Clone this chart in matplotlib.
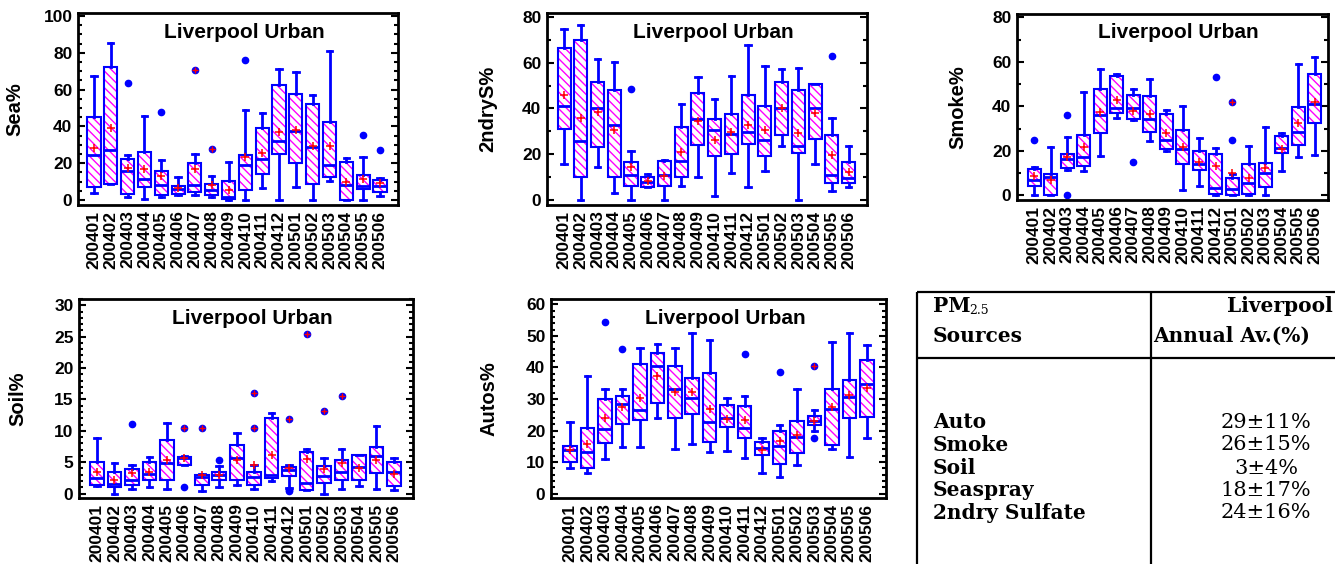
import matplotlib
matplotlib.use("Agg")
import matplotlib.pyplot as plt
from matplotlib.colors import to_rgba
from matplotlib.ticker import MultipleLocator

# ---------------- data ----------------
months = ["200401", "200402", "200403", "200404", "200405", "200406", "200407", "200408", "200409",
          "200410", "200411", "200412", "200501", "200502", "200503", "200504", "200505", "200506"]

sea_lo = [3.6, 8.5, 1.8, 0.4, 1.4, 2.7, 2.5, 1.4, 0.0, 0.0, 6.5, 0.0, 7.0, 0.0, 10.1, 0.0, 0.0, 2.2]
sea_q1 = [7.2, 8.9, 3.3, 6.9, 2.5, 3.3, 4.3, 2.7, 0.5, 5.3, 14.0, 25.0, 19.9, 8.5, 12.5, 0.0, 6.0, 4.3]
sea_med = [24.6, 27.4, 16.0, 11.2, 8.3, 6.0, 8.0, 5.4, 1.6, 18.8, 22.5, 32.0, 37.7, 28.8, 19.2, 8.0, 7.8, 7.8]
sea_q3 = [45.3, 72.5, 22.5, 25.9, 15.6, 7.4, 20.0, 8.9, 10.1, 24.3, 39.0, 62.5, 57.6, 52.4, 42.2, 20.8, 13.8, 11.0]
sea_hi = [67.4, 85.5, 24.5, 45.7, 21.9, 12.5, 25.2, 13.2, 20.5, 48.7, 47.3, 71.0, 69.7, 57.2, 81.0, 22.8, 23.4, 12.1]
sea_mean = [28.0, 39.0, 17.2, 16.7, 13.0, 6.3, 17.0, 8.0, 5.4, 23.6, 25.7, 36.8, 38.2, 29.5, 29.2, 10.0, 11.4, 9.2]
sea_out = [[], [], [63.8], [], [48.0], [], [], [], [], [76.0], [], [], [], [], [], [], [35.3], [27.0]]
sea_far = [[], [], [], [], [], [], [70.5], [27.5], [], [], [], [], [], [], [], [], [], []]

sul_lo = [15.5, 0.0, 14.5, 3.2, 0.0, 5.8, 0.0, 6.1, 10.1, 1.9, 12.0, 5.7, 12.8, 23.4, 0.0, 15.6, 3.9, 5.8]
sul_q1 = [31.1, 9.9, 23.1, 9.9, 6.1, 5.8, 6.0, 10.1, 23.9, 19.3, 19.9, 24.5, 19.0, 28.5, 20.7, 26.6, 7.2, 7.6]
sul_med = [40.9, 25.8, 40.4, 32.6, 10.7, 7.9, 10.7, 17.2, 35.2, 30.7, 28.9, 29.9, 26.4, 40.4, 23.4, 40.0, 10.7, 9.6]
sul_q3 = [66.4, 69.8, 51.4, 48.0, 16.8, 10.2, 17.2, 31.7, 46.6, 35.5, 37.5, 46.0, 41.0, 51.7, 48.0, 50.5, 28.2, 16.4]
sul_hi = [74.6, 76.6, 61.5, 60.1, 21.5, 11.2, 17.5, 41.9, 53.6, 44.1, 54.3, 67.6, 58.4, 57.1, 57.5, 50.5, 35.8, 23.8]
sul_mean = [45.8, 36.0, 38.4, 30.7, 14.6, 8.3, 10.5, 20.9, 34.3, 26.4, 29.6, 32.6, 30.7, 40.4, 29.2, 38.0, 19.6, 12.3]
sul_out = [[], [], [], [], [48.6], [], [], [], [], [], [], [], [], [], [], [], [63.1], []]
sul_far = [[] for _ in range(18)]

smk_lo = [0.0, 0.0, 11.4, 10.8, 17.7, 34.6, 33.9, 24.4, 20.1, 2.5, 4.3, 0.0, 0.0, 0.0, 0.0, 10.8, 17.4, 18.1]
smk_q1 = [4.0, 0.0, 12.3, 13.0, 28.2, 36.9, 34.5, 28.5, 21.0, 14.1, 11.2, 0.4, 0.0, 0.4, 3.6, 18.9, 22.5, 32.4]
smk_med = [6.9, 8.4, 16.5, 17.2, 36.3, 39.4, 39.4, 34.5, 25.0, 20.7, 14.1, 3.3, 2.8, 5.4, 10.2, 21.1, 28.6, 41.0]
smk_q3 = [11.7, 9.4, 18.7, 27.3, 47.6, 53.6, 45.1, 44.6, 36.7, 29.4, 19.8, 18.4, 7.9, 13.9, 14.7, 26.7, 39.7, 54.7]
smk_hi = [12.6, 21.9, 26.4, 46.4, 56.9, 54.5, 47.9, 52.4, 38.4, 40.1, 25.8, 21.4, 9.4, 22.3, 30.9, 28.2, 58.9, 62.0]
smk_mean = [8.8, 7.0, 17.1, 21.7, 37.5, 43.0, 37.8, 36.4, 28.2, 21.9, 14.8, 13.3, 9.9, 7.6, 12.4, 20.8, 32.4, 42.1]
smk_out = [[24.9], [], [36.0, 0.0], [], [], [], [14.8], [], [], [], [], [53.0], [24.7], [], [], [], [], []]
smk_far = [[], [], [], [], [], [], [], [], [], [], [], [], [41.9], [], [], [], [], []]

soil_lo = [1.2, 0.0, 0.8, 1.1, 0.7, 4.6, 0.4, 1.0, 1.3, 0.8, 2.0, 0.9, 0.5, 0.0, 0.8, 1.2, 0.7, 0.5]
soil_q1 = [1.3, 1.0, 1.3, 2.2, 2.2, 4.6, 1.4, 2.2, 2.2, 1.4, 2.5, 2.8, 0.6, 1.7, 2.2, 2.2, 3.3, 1.2]
soil_med = [2.5, 1.5, 2.1, 3.2, 4.9, 5.6, 2.7, 3.0, 5.7, 2.6, 3.0, 3.8, 1.7, 2.8, 3.5, 4.2, 6.0, 3.4]
soil_q3 = [5.1, 3.4, 3.9, 5.0, 8.5, 5.9, 3.0, 3.4, 7.8, 3.4, 12.1, 4.2, 6.6, 4.4, 5.3, 6.1, 7.4, 5.0]
soil_hi = [8.8, 4.8, 4.5, 5.8, 11.2, 6.0, 3.2, 4.4, 9.7, 4.6, 12.8, 4.6, 7.1, 5.6, 7.1, 6.2, 10.7, 5.6]
soil_mean = [3.4, 2.1, 3.3, 3.5, 5.4, 5.6, 3.0, 2.9, 5.3, 4.6, 6.2, 4.0, 5.5, 3.9, 4.9, 4.0, 5.4, 3.1]
soil_out = [[], [], [11.1], [], [], [1.1], [], [5.3], [], [], [], [0.6, 0.4], [], [], [], [], [], []]
soil_far = [[], [], [], [], [], [10.4], [10.4], [], [], [16.1, 10.4], [], [11.9], [25.4], [13.2], [15.6], [], [], []]

aut_lo = [8.0, 6.6, 10.9, 14.7, 14.9, 24.1, 14.2, 15.7, 13.3, 13.4, 11.2, 6.5, 5.2, 9.0, 19.8, 14.1, 11.5, 17.5]
aut_q1 = [10.1, 8.0, 16.1, 22.1, 23.3, 28.8, 24.1, 25.2, 16.2, 21.2, 17.6, 12.2, 9.4, 13.0, 21.9, 15.4, 24.0, 24.3]
aut_med = [13.9, 13.1, 20.4, 28.5, 26.6, 40.3, 33.3, 30.2, 22.6, 23.9, 20.7, 14.4, 15.2, 18.1, 22.9, 26.9, 30.6, 34.7]
aut_q3 = [15.2, 20.7, 29.9, 30.8, 41.1, 44.7, 40.4, 36.7, 38.1, 28.0, 27.8, 16.3, 20.0, 23.0, 24.5, 33.2, 35.9, 42.4]
aut_hi = [22.7, 37.4, 33.2, 33.2, 46.1, 47.5, 46.3, 51.0, 48.6, 30.2, 30.8, 17.6, 21.8, 33.3, 26.4, 48.2, 51.0, 47.1]
aut_mean = [13.7, 15.7, 24.0, 27.5, 30.3, 37.4, 32.2, 32.1, 26.9, 23.6, 23.4, 13.7, 16.8, 18.7, 23.1, 27.4, 31.2, 33.4]
aut_out = [[], [], [54.4], [45.8], [], [], [], [], [], [], [44.3], [], [38.5], [], [17.5], [], [], []]
aut_far = [[], [], [], [], [], [], [], [], [], [], [], [], [], [], [40.5], [], [], []]

panel_title = "Liverpool Urban"

table_sources = ["Auto", "Smoke", "Soil", "Seaspray", "2ndry Sulfate"]
table_values = ["29\u00b111%", "26\u00b115%", "3\u00b14%", "18\u00b117%", "24\u00b116%"]

# ---------------- style ----------------
BLUE = "#0000FF"
MAG = "#FF00FF"
RED = "#FF0000"
plt.rcParams["font.family"] = ["Liberation Sans", "DejaVu Sans"]
plt.rcParams["hatch.linewidth"] = 1.0

W, H = 1335, 564
fig = plt.figure(figsize=(W / 100, H / 100), dpi=100)


def px_axes(x0, y0, x1, y1):
    return fig.add_axes([x0 / W, 1 - y1 / H, (x1 - x0) / W, (y1 - y0) / H])


def boxpanel(rect, lo, q1, med, q3, hi, mean, out, far, ylabel, ylim, xlim, major, minor, labx):
    ax = px_axes(*rect)
    stats = []
    for i in range(len(months)):
        stats.append(dict(whislo=lo[i], q1=q1[i], med=med[i], q3=q3[i], whishi=hi[i],
                          mean=mean[i], fliers=out[i] + far[i], label=months[i]))
    pos = list(range(1, len(months) + 1))
    res = ax.bxp(stats, positions=pos, widths=0.78, patch_artist=True, showmeans=True,
                 capwidths=0.32,
                 boxprops=dict(facecolor="white", edgecolor=BLUE, linewidth=1.5, hatch="\\\\\\\\"),
                 whiskerprops=dict(color=BLUE, linewidth=2.0),
                 capprops=dict(color=BLUE, linewidth=2.0),
                 medianprops=dict(color=BLUE, linewidth=2.0),
                 meanprops=dict(marker="+", markeredgecolor=RED, markersize=6, markeredgewidth=1.1,
                                linestyle="none"),
                 flierprops=dict(marker="o", markerfacecolor=BLUE, markeredgecolor=BLUE,
                                 markersize=4.5, linestyle="none"))
    for b in res["boxes"]:
        b._hatch_color = to_rgba(MAG)
    # far-outside points: red cross inside blue dot
    fx, fy = [], []
    for i, vals in enumerate(far):
        for v in vals:
            fx.append(pos[i])
            fy.append(v)
    if fx:
        ax.plot(fx, fy, linestyle="none", marker="+", color=RED, markersize=4, markeredgewidth=1.0,
                zorder=5)
    ax.set_xlim(*xlim)
    ax.set_ylim(*ylim)
    ax.yaxis.set_major_locator(MultipleLocator(major))
    ax.yaxis.set_minor_locator(MultipleLocator(minor))
    ax.tick_params(axis="y", which="both", direction="in", left=True, right=True, width=1.5,
                   labelsize=12.5, pad=4)
    ax.tick_params(axis="y", which="major", length=5)
    ax.tick_params(axis="y", which="minor", length=3)
    ax.tick_params(axis="x", which="both", length=0, labelsize=12.5, pad=4)
    ax.set_xticks(pos)
    ax.set_xticklabels(months, rotation=90)
    for lab in ax.get_xticklabels() + ax.get_yticklabels():
        lab.set_fontweight("bold")
        lab.set_color("black")
    for s in ax.spines.values():
        s.set_linewidth(2.0)
    ax.set_ylabel(ylabel, fontsize=14.5, fontweight="bold")
    ax.yaxis.set_label_coords(labx, 0.5)
    ax.text(0.52, 0.9, panel_title, transform=ax.transAxes, ha="center", va="center",
            fontsize=15, fontweight="bold", color="black")
    return ax


boxpanel((78, 13, 398, 205), sea_lo, sea_q1, sea_med, sea_q3, sea_hi, sea_mean, sea_out, sea_far,
         "Sea%", (-2.7, 101.6), (0.05, 19.07), 20, 5, -0.166)
boxpanel((547, 13, 867, 205), sul_lo, sul_q1, sul_med, sul_q3, sul_hi, sul_mean, sul_out, sul_far,
         "2ndryS%", (-2.2, 81.7), (-0.02, 19.1), 20, 10, -0.156)
boxpanel((1017, 14, 1328, 200), smk_lo, smk_q1, smk_med, smk_q3, smk_hi, smk_mean, smk_out, smk_far,
         "Smoke%", (-2.1, 81.5), (-0.05, 18.8), 20, 10, -0.161)
boxpanel((79, 299, 413, 498), soil_lo, soil_q1, soil_med, soil_q3, soil_hi, soil_mean, soil_out, soil_far,
         "Soil%", (-0.7, 31.0), (-0.03, 19.09), 5, 1, -0.156)
boxpanel((551, 299, 886, 498), aut_lo, aut_q1, aut_med, aut_q3, aut_hi, aut_mean, aut_out, aut_far,
         "Autos%", (-1.4, 61.7), (-0.09, 19.1), 10, 2, -0.158)

# ---------------- table ----------------
tax = fig.add_axes([0, 0, 1, 1])
tax.set_xlim(0, W)
tax.set_ylim(H, 0)
tax.axis("off")
tax.patch.set_visible(False)
lk = dict(color="black", linewidth=1.6, solid_capstyle="butt")
tax.plot([917, W], [292, 292], **lk)
tax.plot([917, W], [358, 358], **lk)
tax.plot([917, 917], [292, H], **lk)
tax.plot([1151, 1151], [292, H], **lk)

serif = ["DejaVu Serif"]
fs = 14.5
tax.text(933, 306, "PM", family=serif, fontsize=fs, fontweight="bold", ha="left", va="center")
tax.text(969, 311, "2.5", family=serif, fontsize=9, ha="left", va="center")
tax.text(933, 336, "Sources", family=serif, fontsize=fs, fontweight="bold", ha="left", va="center")
tax.text(1333, 306, "Liverpool", family=serif, fontsize=fs, fontweight="bold", ha="right", va="center")
tax.text(1153, 336, "Annual Av.(%)", family=serif, fontsize=fs, fontweight="bold", ha="left",
         va="center")
row_y = [422, 445, 468, 490, 513]
for yy, src, val in zip(row_y, table_sources, table_values):
    tax.text(933, yy, src, family=serif, fontsize=fs, fontweight="bold", ha="left", va="center")
    tax.text(1266, yy, val, family=serif, fontsize=15, ha="center", va="center")

fig.savefig("out.png", dpi=100)
